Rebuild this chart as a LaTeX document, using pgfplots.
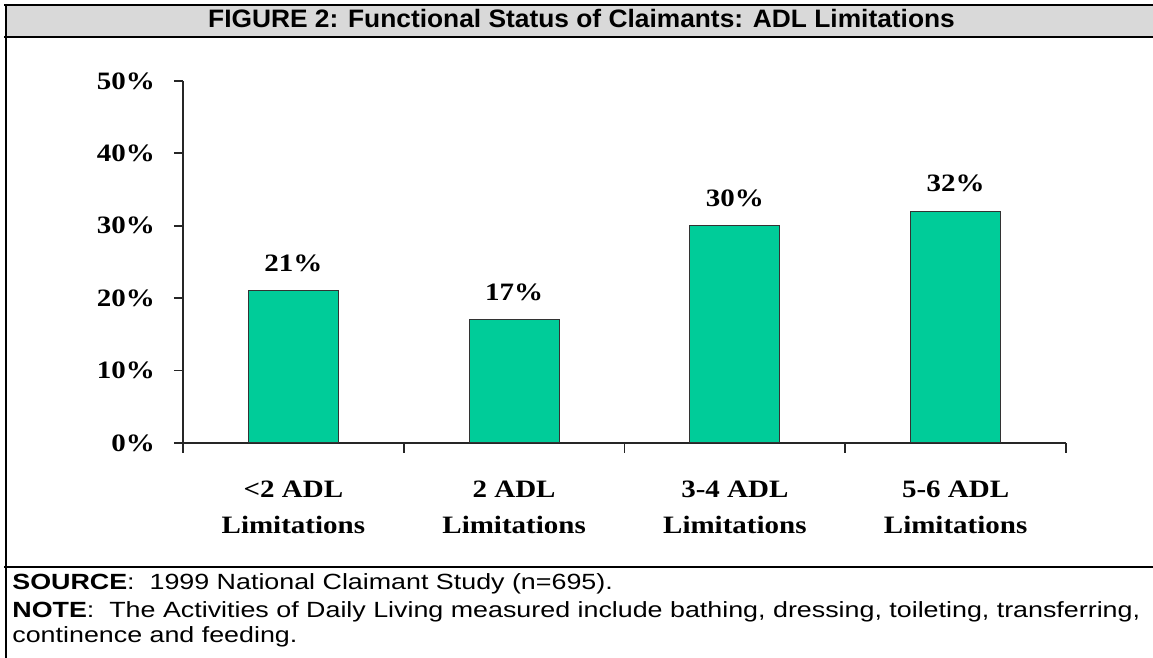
\documentclass[border=0pt]{standalone}
\usepackage{fontspec}
\setmainfont{Liberation Serif}
\newfontfamily\arial{Liberation Sans}
\usepackage{graphicx}
\usepackage{pgfplots}
\pgfplotsset{compat=1.18}
\definecolor{bargreen}{RGB}{0,204,153}
\definecolor{titlegray}{RGB}{217,217,217}
\newcommand{\sx}[1]{\scalebox{1.16}[1]{#1}}
\newcommand{\nx}[1]{\scalebox{1.22}[1]{#1}}
\begin{document}
\begin{tikzpicture}
\useasboundingbox (0,0) rectangle (576.5pt,329pt);
% frame
\fill[titlegray] (3pt,326.5pt) rectangle (590pt,310.5pt);
\draw[line width=1.2pt] (2pt,326.5pt) -- (590pt,326.5pt);
\draw[line width=1.2pt] (2pt,310.5pt) -- (590pt,310.5pt);
\draw[line width=1.2pt] (3pt,327pt) -- (3pt,-10pt);
\draw[line width=1.1pt] (2pt,45.5pt) -- (590pt,45.5pt);
\node[anchor=base, font=\arial\bfseries\fontsize{12.6}{14}\selectfont, inner sep=0pt] at (290.75pt,315pt) {\scalebox{1.045}[1]{FIGURE 2: Functional Status of Claimants: ADL Limitations}};
\node[anchor=base west, font=\arial\fontsize{11}{14}\selectfont, inner sep=0pt] at (6pt,34pt) {\nx{\textbf{SOURCE}:\ \ 1999 National Claimant Study (n=695).}};
\node[anchor=base west, font=\arial\fontsize{11}{14}\selectfont, inner sep=0pt] at (6pt,20pt) {\nx{\textbf{NOTE}:\ \ The Activities of Daily Living measured include bathing, dressing, toileting, transferring,}};
\node[anchor=base west, font=\arial\fontsize{11}{14}\selectfont, inner sep=0pt] at (6pt,7.5pt) {\nx{continence and feeding.}};
\begin{axis}[
  at={(91.5pt,107.5pt)}, anchor=origin,
  scale only axis,
  width=441.5pt, height=181pt,
  xmin=0, xmax=4, ymin=0, ymax=50,
  axis x line*=bottom, axis y line*=left,
  axis line style={line width=0.9pt, black!85},
  ytick={0,10,20,30,40,50},
  yticklabel={\sx{\pgfmathprintnumber{\tick}\%}},
  xtick={0.5,1.5,2.5,3.5},
  xticklabels={{\sx{<2 ADL}\\\sx{Limitations}},{\sx{2 ADL}\\\sx{Limitations}},{\sx{3-4 ADL}\\\sx{Limitations}},{\sx{5-6 ADL}\\\sx{Limitations}}},
  major x tick style={draw=none},
  minor xtick={0,1,2,3,4},
  tick align=outside,
  major tick length=4.5pt,
  minor tick length=5pt,
  tick style={line width=0.9pt, black!85},
  ticklabel style={font=\bfseries\fontsize{12.5}{18}\selectfont},
  /pgf/number format/assume math mode=true,
  xticklabel style={align=center, yshift=-11pt},
  yticklabel style={xshift=-6pt},
  clip=false,
]
\addplot[ybar, bar width=45pt, fill=bargreen, draw=black!80, line width=0.5pt,
  nodes near coords={\sx{\pgfmathprintnumber{\pgfplotspointmeta}\%}},
  nodes near coords style={font=\bfseries\fontsize{12.5}{14}\selectfont, yshift=6pt}]
  coordinates {(0.5,21) (1.5,17) (2.5,30) (3.5,32)};
\end{axis}
\end{tikzpicture}
\end{document}
